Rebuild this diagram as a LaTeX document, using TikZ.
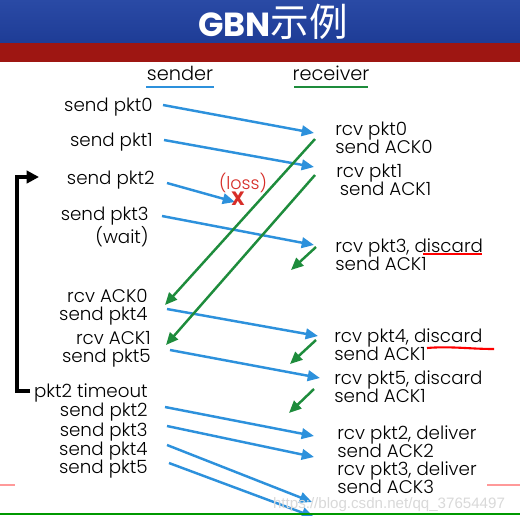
\documentclass[tikz,border=0pt]{standalone}
\usepackage{fontspec}
\setmainfont{Poppins}[UprightFont=* Light, BoldFont=* Bold]
\newfontfamily\cjk{Noto Sans CJK SC}
\newfontfamily\wmfont{Liberation Sans}
\usepackage{xcolor}
\usetikzlibrary{positioning}
\usetikzlibrary{arrows.meta}
\definecolor{bandblue}{RGB}{30,60,150}
\definecolor{bandtop}{RGB}{42,74,165}
\definecolor{bandred}{RGB}{158,22,18}
\definecolor{pktblue}{RGB}{45,145,220}
\definecolor{ackgreen}{RGB}{30,140,60}
\definecolor{lossred}{RGB}{215,45,40}
\tikzstyle{sndr} = [anchor=east, align=right, inner sep=0pt, font=\fontsize{10.4}{10.4}\selectfont]
\tikzstyle{rcvr} = [anchor=west, align=left, inner sep=0pt, font=\fontsize{10.4}{10.4}\selectfont]
\tikzstyle{pkt} = [line width=1.4pt, draw=pktblue, -{Triangle[length=7pt,width=6pt]}]
\tikzstyle{ack} = [line width=1.4pt, draw=ackgreen, -{Triangle[length=7pt,width=6pt]}]

\begin{document}
\begin{tikzpicture}[x=0.02cm,y=-0.02cm]
\useasboundingbox (0,0) rectangle (520,515);
\fill [white] (0,0) rectangle (520,515);
% title band
\shade [top color=bandtop, bottom color=bandblue] (0,0) rectangle (520,43);
\fill [bandred] (0,43) rectangle (520,62);
\draw (273,22) node (title) [text=white, inner sep=0pt] {\fontsize{19}{19}\selectfont\bfseries GBN\mdseries\cjk\fontsize{22}{22}\selectfont 示例};
% column heads
\draw (180,73) node (snd) [inner sep=0pt, font=\fontsize{11}{11}\selectfont] {sender};
\draw (331,73) node (rcv) [inner sep=0pt, font=\fontsize{11}{11}\selectfont] {receiver};
\draw [pktblue, line width=1.3pt] (146,87) -- (214,87);
\draw [ackgreen, line width=1.3pt] (294,87) -- (368,87);
% sender side
\draw (153,107) node (sp0) [sndr] {send pkt0};
\draw (153,142) node (sp1) [sndr] {send pkt1};
\draw (155,180) node (sp2) [sndr] {send pkt2};
\draw (149,227) node (sp3) [sndr] {send pkt3\\(wait)};
\draw (148,307) node (ra0) [sndr] {rcv ACK0\\send pkt4};
\draw (151,349) node (ra1) [sndr] {rcv ACK1\\send pkt5};
\draw (148,393) node (tmo) [sndr] {pkt2 timeout};
\draw (148,412) node (rs2) [sndr] {send pkt2};
\draw (148,432) node (rs3) [sndr] {send pkt3};
\draw (148,451) node (rs4) [sndr] {send pkt4};
\draw (148,469) node (rs5) [sndr] {send pkt5};
% receiver side
\draw (335,138) node (rp0) [rcvr] {rcv pkt0\\send ACK0};
\draw (336,180) node (rp1) [rcvr] {rcv pkt1\\\hspace{2pt}send ACK1};
\draw (335,255) node (rp3) [rcvr] {rcv pkt3, discard\\send ACK1};
\draw (334,345) node (rp4) [rcvr] {rcv pkt4, discard\\send ACK1};
\draw (334,387) node (rp5) [rcvr] {rcv pkt5, discard\\send ACK1};
\draw (337,442) node (dp2) [rcvr] {rcv pkt2, deliver\\send ACK2};
\draw (337,478) node (dp3) [rcvr] {rcv pkt3, deliver\\send ACK3};
% arrow ends
\coordinate (a0) at (163,105); \coordinate (b0) at (314,133);
\coordinate (a1) at (164,140); \coordinate (b1) at (314,167);
\coordinate (a2) at (167,183); \coordinate (b2) at (235,202);
\coordinate (a3) at (162,216); \coordinate (b3) at (314,245);
\coordinate (a4) at (167,309); \coordinate (b4) at (318,336);
\coordinate (a5) at (170,350); \coordinate (b5) at (320,378);
\coordinate (c2) at (165,407); \coordinate (d2) at (314,436);
\coordinate (c3) at (167,426); \coordinate (d3) at (314,457);
\coordinate (c4) at (167,445); \coordinate (d4) at (312,502);
\coordinate (c5) at (169,463); \coordinate (d5) at (314,517);
\coordinate (k0) at (315,139); \coordinate (m0) at (165,305);
\coordinate (k1) at (315,175); \coordinate (m1) at (166,345);
\coordinate (k3) at (316,247); \coordinate (m3) at (291,270);
\coordinate (k4) at (316,340); \coordinate (m4) at (290,364);
\coordinate (k5) at (314,389); \coordinate (m5) at (289,413);
% packets
\draw [pkt] (a0) -- (b0);
\draw [pkt] (a1) -- (b1);
\draw [pkt] (a2) -- (b2);
\draw [pkt] (a3) -- (b3);
\draw [pkt] (a4) -- (b4);
\draw [pkt] (a5) -- (b5);
\draw [pkt] (c2) -- (d2);
\draw [pkt] (c3) -- (d3);
\draw [pkt] (c4) -- (d4);
\draw [pkt] (c5) -- (d5);
% acks
\draw [ack] (k0) -- (m0);
\draw [ack] (k1) -- (m1);
\draw [ack] (k3) -- (m3);
\draw [ack] (k4) -- (m4);
\draw [ack] (k5) -- (m5);
% loss
\draw (243,183) node (loss) [text=lossred, inner sep=0pt, font=\fontsize{10}{10}\selectfont] {(loss)};
\draw (238,199) node (lx) [text=lossred, inner sep=0pt, font=\fontsize{11}{11}\selectfont\bfseries] {X};
% timeout bracket
\coordinate (tb) at (30,391);
\coordinate (tt) at (39,177);
\draw [line width=2pt, -{Triangle[length=7pt,width=7pt]}] (tb) -- (17,391) -- (17,177) -- (tt);
% hand marks
\draw [red, line width=1.3pt] (423,254) -- (482,254);
\draw [red, line width=1.2pt] (427,348) .. controls (450,346) and (470,349) .. (494,349);
% slide edge
\draw [red!40, line width=0.8pt] (0,485) -- (15,485);
\draw [red!40, line width=0.8pt] (487,485) -- (520,485);
\draw [green!60!black, line width=1pt] (0,514) -- (520,514);
\draw (389,505) node (wm) [text=gray!30, inner sep=0pt, font=\wmfont\fontsize{8.6}{8.6}\selectfont] {https://blog.csdn.net/qq\_37654497};
\end{tikzpicture}
\end{document}
